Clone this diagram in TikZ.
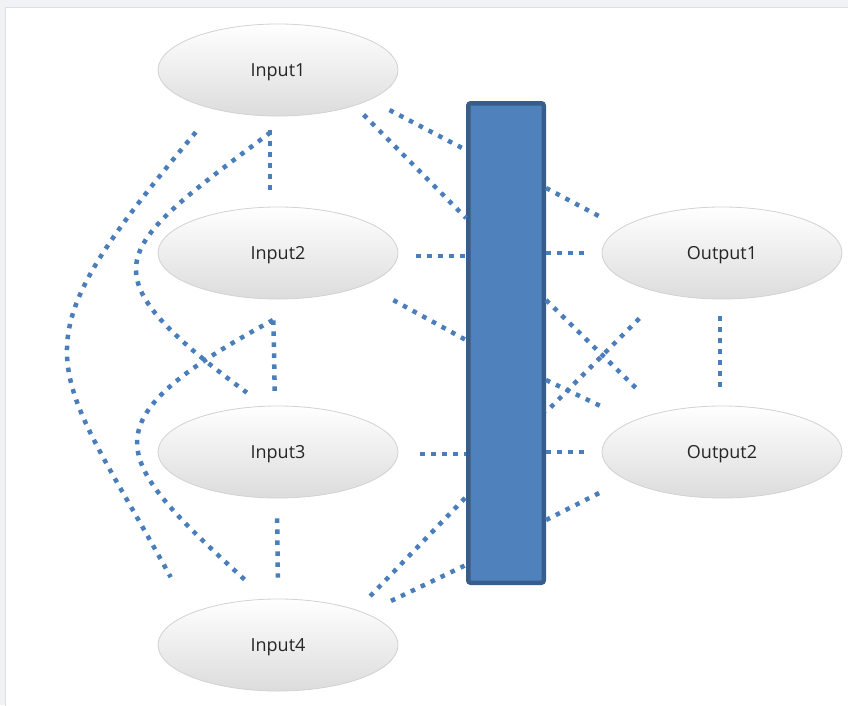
\documentclass[tikz,border=0pt]{standalone}
\usepackage{fontspec}
\setmainfont{Open Sans}
\usepackage{tikz}
\usetikzlibrary{shapes.geometric}
\definecolor{linkblue}{HTML}{4A7EBB}
\definecolor{barfill}{HTML}{4F81BD}
\definecolor{bardraw}{HTML}{385D8A}
\definecolor{ovaldraw}{HTML}{D2D2D2}
\definecolor{ovalbot}{HTML}{DCDCDC}
\definecolor{framebg}{HTML}{F1F2F4}
\definecolor{framedraw}{HTML}{DCDFE3}
\tikzset{
  oval/.style={ellipse, draw=ovaldraw, line width=.8pt, top color=white, bottom color=ovalbot,
    minimum width=240pt, minimum height=92pt, inner sep=0pt, text=black!85,
    text height=13pt, text depth=0pt, font=\fontsize{18}{20}\selectfont},
  link/.style={draw=linkblue, line width=4.5pt, dash pattern=on 4.5pt off 6.5pt}
}

\begin{document}
\begin{tikzpicture}[x=1pt,y=-1pt]
\useasboundingbox (0,0) rectangle (848,705);
\fill[framebg] (0,0) rectangle (848,705);
\filldraw[fill=white, draw=framedraw, line width=1pt] (5,7) rectangle (849,706);

\node[oval] (in1) at (278,70) {Input1};
\node[oval] (in2) at (278,253) {Input2};
\node[oval] (in3) at (278,452) {Input3};
\node[oval] (in4) at (278,645) {Input4};
\node[oval] (out1) at (722,253) {Output1};
\node[oval] (out2) at (722,452) {Output2};
\node[rectangle, rounded corners=2.5pt, fill=barfill, draw=bardraw, line width=4.5pt,
  minimum width=75.5pt, minimum height=479.5pt, inner sep=0pt] (bar) at (506,343) {};

\draw[link, shorten <=22pt] (in1.-18.3) -- ([yshift=193pt]bar.west);
\draw[link, shorten <=12.7pt] (in1.-25.6) -- ([yshift=125pt]bar.west);
\draw[link, shorten <=18pt] ([yshift=-3pt]in2.east) -- ([yshift=-3pt]in2.east -| bar.west);
\draw[link, shorten <=31.8pt] (in2.-20.4) -- ([yshift=3pt]bar.west);
\draw[link, shorten <=22pt] ([yshift=-2pt]in3.east) -- ([yshift=-2pt]in3.east -| bar.west);
\draw[link, shorten <=19.2pt] (in4.24.8) -- ([yshift=-154pt]bar.west);
\draw[link, shorten <=28.3pt] (in4.20.2) -- ([yshift=-222pt]bar.west);

\draw[link, shorten >=21.5pt] ([yshift=155pt]bar.east) -- (out1.166.2);
\draw[link, shorten >=12pt] (bar.east |- out1.west) -- (out1.west);
\draw[link, shorten >=29.3pt] ([yshift=43pt]bar.east) -- (out2.147);
\draw[link, shorten <=35pt] (out1.215.1) -- ([yshift=-69pt]bar.east);
\draw[link, shorten >=31.2pt] ([yshift=-37pt]bar.east) -- (out2.161.3);
\draw[link, shorten >=12pt] (bar.east |- out2.west) -- (out2.west);
\draw[link, shorten >=28.9pt] ([yshift=-177pt]bar.east) -- (out2.196.8);
\draw[link, shorten <=17pt, shorten >=19pt] ([xshift=-2pt]out1.south) -- ([xshift=-2pt]out2.north);

\draw[link, shorten <=14pt, shorten >=14pt] ([xshift=-8pt]in1.south) -- ([xshift=-8pt]in2.north);
\draw[link, shorten <=21pt, shorten >=11pt] ([xshift=-5pt]in2.south) -- ([xshift=-3pt]in3.north);
\draw[link, shorten <=20pt, shorten >=21pt] ([xshift=-1pt]in3.south) -- (in4.north);

\draw[link, shorten <=29.6pt, shorten >=41pt] (in1.212.5) .. controls (8.5,356) and (48,354) .. (in4.160.7);
\draw[link, shorten <=27pt, shorten >=22.3pt] (in1.-73.5) .. controls (114.2,250.1) and (78.7,268.3) .. (in3.106);
\draw[link, shorten <=48pt, shorten >=25.4pt] (in2.-50.6) .. controls (82,424) and (110.4,456.7) .. (in4.105);
\end{tikzpicture}
\end{document}
